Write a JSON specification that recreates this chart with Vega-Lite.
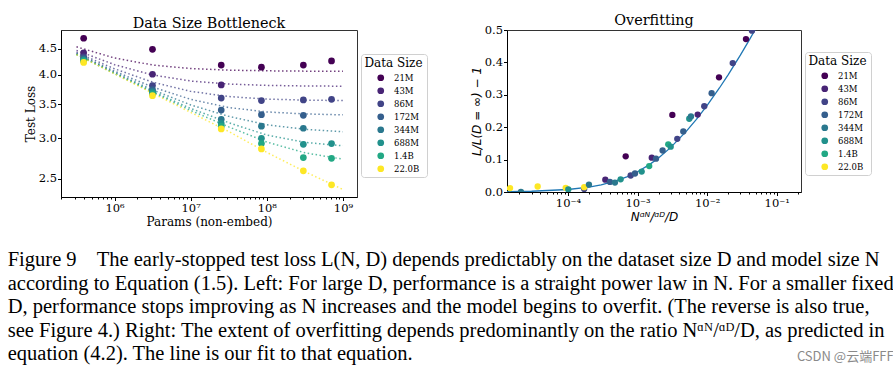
{
  "$schema": "https://vega.github.io/schema/vega-lite/v6.json",
  "padding": {"left": 7, "top": 12, "right": 0, "bottom": 0},
  "background": "white",
  "title": {"text": "CSDN @云端FFF", "orient": "bottom", "anchor": "end", "offset": -14, "font": "Noto Sans CJK SC", "fontSize": 13, "fontWeight": "normal", "color": "#8a8a8a"},
  "config": {
    "view": {"stroke": "#333", "strokeWidth": 1},
    "axis": {"grid": false, "domainColor": "black", "tickColor": "black", "labelColor": "black", "titleColor": "black", "labelFont": "DejaVu Serif", "labelFontSize": 11.5, "titleFont": "DejaVu Serif", "titleFontSize": 12, "titleFontWeight": "normal", "tickSize": 3.5, "labelPadding": 1.5, "labelFlush": false, "labelOverlap": false},
    "axisX": {"titlePadding": 3},
    "axisY": {"titlePadding": 1, "labelPadding": 1},
    "legend": {"orient": "none", "symbolType": "circle", "symbolSize": 45, "symbolStrokeWidth": 0, "symbolOffset": 8, "labelFont": "DejaVu Serif", "labelFontSize": 8.5, "labelColor": "black", "labelOffset": 9, "titleFont": "DejaVu Serif", "titleFontSize": 12, "titleFontWeight": "normal", "titleColor": "black", "titleAnchor": "middle", "titlePadding": 4, "rowPadding": 4, "padding": 3.5, "strokeColor": "#d0d0d0", "fillColor": "white", "cornerRadius": 3}
  },
  "vconcat": [
    {
      "title": {
        "text": [
          "Figure 9\u00a0\u00a0\u00a0 The early-stopped test loss L(N, D) depends predictably on the dataset size D and model size N",
          "according to Equation (1.5). Left: For large D, performance is a straight power law in N. For a smaller fixed",
          "D, performance stops improving as N increases and the model begins to overfit. (The reverse is also true,",
          "see Figure 4.) Right: The extent of overfitting depends predominantly on the ratio Nᵅᴺ/ᵅᴰ/D, as predicted in",
          "equation (4.2). The line is our fit to that equation."
        ],
        "orient": "bottom", "anchor": "start", "dx": -16, "offset": 22, "font": "Liberation Serif", "fontSize": 20.5, "fontWeight": "normal", "lineHeight": 23.5, "color": "black"
      },
      "spacing": 41,
      "resolve": {"scale": {"color": "independent"}, "legend": {"color": "independent"}},
      "hconcat": [
        {
          "width": 296, "height": 167,
          "title": {"text": "Data Size Bottleneck", "font": "DejaVu Serif", "fontSize": 14.4, "fontWeight": "normal", "color": "black", "offset": -1.5},
          "resolve": {"axis": {"x": "independent"}},
          "layer": [
            {
              "data": {"values": [
                {"N": 316228, "loss": 4.541, "D": "21M"}, {"N": 1000000, "loss": 4.316, "D": "21M"}, {"N": 3162278, "loss": 4.182, "D": "21M"}, {"N": 10000000, "loss": 4.115, "D": "21M"}, {"N": 31622777, "loss": 4.085, "D": "21M"}, {"N": 100000000, "loss": 4.073, "D": "21M"}, {"N": 316227766, "loss": 4.067, "D": "21M"}, {"N": 1000000000, "loss": 4.065, "D": "21M"},
                {"N": 316228, "loss": 4.467, "D": "43M"}, {"N": 1000000, "loss": 4.188, "D": "43M"}, {"N": 3162278, "loss": 3.997, "D": "43M"}, {"N": 10000000, "loss": 3.889, "D": "43M"}, {"N": 31622777, "loss": 3.836, "D": "43M"}, {"N": 100000000, "loss": 3.813, "D": "43M"}, {"N": 316227766, "loss": 3.803, "D": "43M"}, {"N": 1000000000, "loss": 3.799, "D": "43M"},
                {"N": 316228, "loss": 4.427, "D": "86M"}, {"N": 1000000, "loss": 4.110, "D": "86M"}, {"N": 3162278, "loss": 3.869, "D": "86M"}, {"N": 10000000, "loss": 3.711, "D": "86M"}, {"N": 31622777, "loss": 3.625, "D": "86M"}, {"N": 100000000, "loss": 3.584, "D": "86M"}, {"N": 316227766, "loss": 3.567, "D": "86M"}, {"N": 1000000000, "loss": 3.559, "D": "86M"},
                {"N": 316228, "loss": 4.405, "D": "172M"}, {"N": 1000000, "loss": 4.066, "D": "172M"}, {"N": 3162278, "loss": 3.785, "D": "172M"}, {"N": 10000000, "loss": 3.579, "D": "172M"}, {"N": 31622777, "loss": 3.449, "D": "172M"}, {"N": 100000000, "loss": 3.381, "D": "172M"}, {"N": 316227766, "loss": 3.350, "D": "172M"}, {"N": 1000000000, "loss": 3.337, "D": "172M"},
                {"N": 316228, "loss": 4.395, "D": "344M"}, {"N": 1000000, "loss": 4.042, "D": "344M"}, {"N": 3162278, "loss": 3.736, "D": "344M"}, {"N": 10000000, "loss": 3.490, "D": "344M"}, {"N": 31622777, "loss": 3.314, "D": "344M"}, {"N": 100000000, "loss": 3.190, "D": "344M"}, {"N": 316227766, "loss": 3.125, "D": "344M"}, {"N": 1000000000, "loss": 3.090, "D": "344M"},
                {"N": 316228, "loss": 4.389, "D": "688M"}, {"N": 1000000, "loss": 4.029, "D": "688M"}, {"N": 3162278, "loss": 3.709, "D": "688M"}, {"N": 10000000, "loss": 3.435, "D": "688M"}, {"N": 31622777, "loss": 3.220, "D": "688M"}, {"N": 100000000, "loss": 3.045, "D": "688M"}, {"N": 316227766, "loss": 2.945, "D": "688M"}, {"N": 1000000000, "loss": 2.900, "D": "688M"},
                {"N": 316228, "loss": 4.386, "D": "1.4B"}, {"N": 1000000, "loss": 4.023, "D": "1.4B"}, {"N": 3162278, "loss": 3.695, "D": "1.4B"}, {"N": 10000000, "loss": 3.404, "D": "1.4B"}, {"N": 31622777, "loss": 3.160, "D": "1.4B"}, {"N": 100000000, "loss": 2.950, "D": "1.4B"}, {"N": 316227766, "loss": 2.810, "D": "1.4B"}, {"N": 1000000000, "loss": 2.730, "D": "1.4B"},
                {"N": 316228, "loss": 4.383, "D": "22.0B"}, {"N": 1000000, "loss": 4.017, "D": "22.0B"}, {"N": 3162278, "loss": 3.680, "D": "22.0B"}, {"N": 10000000, "loss": 3.374, "D": "22.0B"}, {"N": 31622777, "loss": 3.094, "D": "22.0B"}, {"N": 100000000, "loss": 2.815, "D": "22.0B"}, {"N": 316227766, "loss": 2.580, "D": "22.0B"}, {"N": 1000000000, "loss": 2.380, "D": "22.0B"}
              ]},
              "mark": {"type": "line", "strokeDash": [1.5, 2.5], "strokeWidth": 1.5, "opacity": 0.75, "clip": true},
              "encoding": {
                "x": {"field": "N", "type": "quantitative", "scale": {"type": "log", "domain": [198000, 1530000000], "nice": false}, "axis": {"orient": "bottom", "values": [1000000, 10000000, 100000000, 1000000000], "labelExpr": "datum.value < 5e6 ? '10⁶' : datum.value < 5e7 ? '10⁷' : datum.value < 5e8 ? '10⁸' : '10⁹'", "title": "Params (non-embed)"}},
                "y": {"field": "loss", "type": "quantitative", "scale": {"type": "log", "domain": [2.3, 4.9], "nice": false, "zero": false}, "axis": {"values": [2.5, 3, 3.5, 4, 4.5], "format": ".1f", "title": "Test Loss"}},
                "stroke": {"field": "D", "type": "nominal", "scale": {"domain": ["21M", "43M", "86M", "172M", "344M", "688M", "1.4B", "22.0B"], "range": ["#440154", "#482475", "#414487", "#355f8d", "#2a788e", "#21918c", "#22a884", "#fde725"]}, "legend": null},
                "order": {"field": "N", "type": "quantitative"}
              }
            },
            {
              "data": {"values": [
                {"N": 393000, "loss": 4.72, "D": "21M"}, {"N": 3150000, "loss": 4.49, "D": "21M"}, {"N": 25200000, "loss": 4.18, "D": "21M"}, {"N": 85000000, "loss": 4.14, "D": "21M"}, {"N": 302000000, "loss": 4.18, "D": "21M"}, {"N": 708000000, "loss": 4.26, "D": "21M"},
                {"N": 393000, "loss": 4.42, "D": "43M"}, {"N": 3150000, "loss": 4.01, "D": "43M"}, {"N": 25200000, "loss": 3.82, "D": "43M"},
                {"N": 393000, "loss": 4.34, "D": "86M"}, {"N": 3150000, "loss": 3.81, "D": "86M"}, {"N": 25200000, "loss": 3.60, "D": "86M"}, {"N": 85000000, "loss": 3.56, "D": "86M"}, {"N": 302000000, "loss": 3.57, "D": "86M"}, {"N": 708000000, "loss": 3.58, "D": "86M"},
                {"N": 393000, "loss": 4.31, "D": "172M"}, {"N": 3150000, "loss": 3.74, "D": "172M"}, {"N": 25200000, "loss": 3.41, "D": "172M"}, {"N": 85000000, "loss": 3.34, "D": "172M"}, {"N": 302000000, "loss": 3.33, "D": "172M"},
                {"N": 393000, "loss": 4.29, "D": "344M"}, {"N": 3150000, "loss": 3.71, "D": "344M"}, {"N": 25200000, "loss": 3.27, "D": "344M"}, {"N": 85000000, "loss": 3.17, "D": "344M"}, {"N": 302000000, "loss": 3.14, "D": "344M"},
                {"N": 393000, "loss": 4.27, "D": "688M"}, {"N": 3150000, "loss": 3.69, "D": "688M"}, {"N": 25200000, "loss": 3.21, "D": "688M"}, {"N": 85000000, "loss": 3.00, "D": "688M"}, {"N": 302000000, "loss": 2.92, "D": "688M"}, {"N": 708000000, "loss": 2.93, "D": "688M"},
                {"N": 393000, "loss": 4.26, "D": "1.4B"}, {"N": 3150000, "loss": 3.67, "D": "1.4B"}, {"N": 25200000, "loss": 3.17, "D": "1.4B"}, {"N": 85000000, "loss": 2.93, "D": "1.4B"}, {"N": 302000000, "loss": 2.75, "D": "1.4B"}, {"N": 708000000, "loss": 2.74, "D": "1.4B"},
                {"N": 393000, "loss": 4.23, "D": "22.0B"}, {"N": 3150000, "loss": 3.64, "D": "22.0B"}, {"N": 25200000, "loss": 3.13, "D": "22.0B"}, {"N": 85000000, "loss": 2.86, "D": "22.0B"}, {"N": 302000000, "loss": 2.59, "D": "22.0B"}, {"N": 708000000, "loss": 2.43, "D": "22.0B"}
              ]},
              "mark": {"type": "circle", "size": 45, "opacity": 1},
              "encoding": {
                "x": {"field": "N", "type": "quantitative", "axis": {"orient": "bottom", "values": [200000, 300000, 400000, 500000, 600000, 700000, 800000, 900000, 2000000, 3000000, 4000000, 5000000, 6000000, 7000000, 8000000, 9000000, 20000000, 30000000, 40000000, 50000000, 60000000, 70000000, 80000000, 90000000, 200000000, 300000000, 400000000, 500000000, 600000000, 700000000, 800000000, 900000000], "labels": false, "title": null, "domain": false, "tickSize": 2}},
                "y": {"field": "loss", "type": "quantitative"},
                "color": {"field": "D", "type": "nominal", "scale": {"domain": ["21M", "43M", "86M", "172M", "344M", "688M", "1.4B", "22.0B"], "range": ["#440154", "#482475", "#414487", "#355f8d", "#2a788e", "#21918c", "#22a884", "#fde725"]}, "legend": {"title": "Data Size", "legendX": 300, "legendY": 24}}
              }
            }
          ]
        },
        {
          "width": 294, "height": 162,
          "title": {"text": "Overfitting", "font": "DejaVu Serif", "fontSize": 14.4, "fontWeight": "normal", "color": "black", "offset": -4.5},
          "resolve": {"axis": {"x": "independent"}},
          "layer": [
            {
              "data": {"values": [
                {"x": 0.0000133, "v": 0.00106}, {"x": 0.00003, "v": 0.00237}, {"x": 0.0001, "v": 0.00774}, {"x": 0.0002, "v": 0.01505}, {"x": 0.0003, "v": 0.02197}, {"x": 0.0005, "v": 0.0348}, {"x": 0.0007, "v": 0.0465}, {"x": 0.001, "v": 0.0624}, {"x": 0.0015, "v": 0.0853}, {"x": 0.002, "v": 0.105}, {"x": 0.003, "v": 0.1377}, {"x": 0.005, "v": 0.1871}, {"x": 0.007, "v": 0.2243}, {"x": 0.01, "v": 0.2675}, {"x": 0.015, "v": 0.321}, {"x": 0.02, "v": 0.3617}, {"x": 0.03, "v": 0.4224}, {"x": 0.04, "v": 0.468}, {"x": 0.04864, "v": 0.5}
              ]},
              "mark": {"type": "line", "color": "#1f77b4", "strokeWidth": 1.3, "clip": true},
              "encoding": {
                "x": {"field": "x", "type": "quantitative", "scale": {"type": "log", "domain": [0.0000133, 0.223], "nice": false}, "axis": {"orient": "bottom", "values": [0.0001, 0.001, 0.01, 0.1], "labelExpr": "datum.value < 5e-4 ? '10⁻⁴' : datum.value < 5e-3 ? '10⁻³' : datum.value < 5e-2 ? '10⁻²' : '10⁻¹'", "title": "Nᵅᴺ/ᵅᴰ/D", "titleFont": "DejaVu Sans", "titleFontStyle": "italic", "titleFontSize": 12}},
                "y": {"field": "v", "type": "quantitative", "scale": {"domain": [0, 0.5], "nice": false}, "axis": {"values": [0, 0.1, 0.2, 0.3, 0.4, 0.5], "labelOverlap": false, "tickCount": 6, "format": ".1f", "title": "L/L(D = ∞) − 1", "titleFont": "DejaVu Sans", "titleFontStyle": "italic", "titleFontSize": 12}},
                "order": {"field": "x", "type": "quantitative"}
              }
            },
            {
              "data": {"values": [
                {"x": 0.0000147, "v": 0.012, "D": "22.0B"}, {"x": 0.0000211, "v": 0.0, "D": "344M"}, {"x": 0.0000367, "v": 0.017, "D": "22.0B"}, {"x": 0.0000927, "v": 0.013, "D": "22.0B"}, {"x": 0.000101, "v": 0.008, "D": "688M"}, {"x": 0.000171, "v": 0.009, "D": "86M"}, {"x": 0.000171, "v": 0.015, "D": "22.0B"}, {"x": 0.0002, "v": 0.023, "D": "344M"},
                {"x": 0.000344, "v": 0.038, "D": "43M"}, {"x": 0.000401, "v": 0.031, "D": "172M"}, {"x": 0.000473, "v": 0.029, "D": "344M"}, {"x": 0.000571, "v": 0.039, "D": "688M"}, {"x": 0.000675, "v": 0.11, "D": "21M"}, {"x": 0.000796, "v": 0.051, "D": "86M"}, {"x": 0.000918, "v": 0.057, "D": "172M"}, {"x": 0.001146, "v": 0.063, "D": "688M"}, {"x": 0.00147, "v": 0.08, "D": "1.4B"},
                {"x": 0.0016, "v": 0.106, "D": "43M"}, {"x": 0.00184, "v": 0.103, "D": "172M"}, {"x": 0.00229, "v": 0.128, "D": "172M"}, {"x": 0.00276, "v": 0.147, "D": "1.4B"}, {"x": 0.00299, "v": 0.14, "D": "688M"}, {"x": 0.00316, "v": 0.238, "D": "21M"}, {"x": 0.00372, "v": 0.164, "D": "86M"}, {"x": 0.00454, "v": 0.187, "D": "172M"},
                {"x": 0.00553, "v": 0.226, "D": "688M"}, {"x": 0.00585, "v": 0.233, "D": "344M"}, {"x": 0.00731, "v": 0.239, "D": "43M"}, {"x": 0.00909, "v": 0.265, "D": "86M"}, {"x": 0.0116, "v": 0.305, "D": "172M"}, {"x": 0.0148, "v": 0.354, "D": "21M"}, {"x": 0.0233, "v": 0.398, "D": "86M"}, {"x": 0.0361, "v": 0.472, "D": "21M"}, {"x": 0.044, "v": 0.498, "D": "86M"}
              ]},
              "mark": {"type": "circle", "size": 40, "opacity": 1, "clip": true},
              "encoding": {
                "x": {"field": "x", "type": "quantitative", "axis": {"orient": "bottom", "values": [0.00002, 0.00003, 0.00004, 0.00005, 0.00006, 0.00007, 0.00008, 0.00009, 0.0002, 0.0003, 0.0004, 0.0005, 0.0006, 0.0007, 0.0008, 0.0009, 0.002, 0.003, 0.004, 0.005, 0.006, 0.007, 0.008, 0.009, 0.02, 0.03, 0.04, 0.05, 0.06, 0.07, 0.08, 0.09, 0.2], "labels": false, "title": null, "domain": false, "tickSize": 2}},
                "y": {"field": "v", "type": "quantitative"},
                "color": {"field": "D", "type": "nominal", "scale": {"domain": ["21M", "43M", "86M", "172M", "344M", "688M", "1.4B", "22.0B"], "range": ["#440154", "#482475", "#414487", "#355f8d", "#2a788e", "#21918c", "#22a884", "#fde725"]}, "legend": {"title": "Data Size", "legendX": 298, "legendY": 22}}
              }
            }
          ]
        }
      ]
    }
  ]
}
